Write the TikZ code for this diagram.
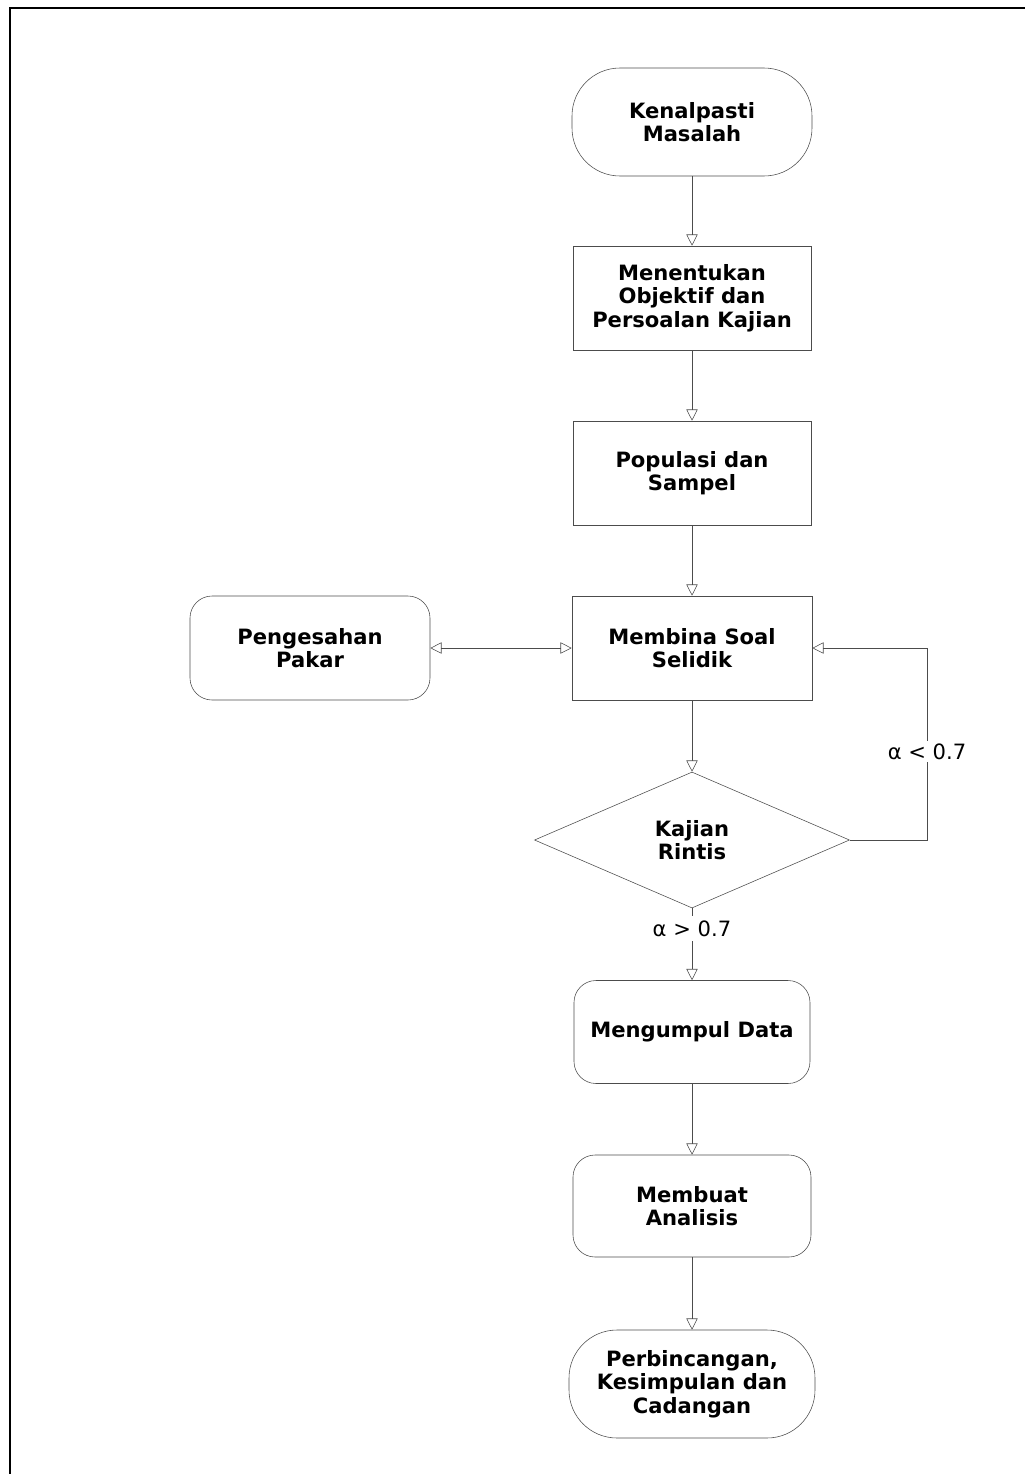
\documentclass[tikz,border=0pt]{standalone}
\usepackage{fontspec}
\setmainfont{DejaVu Sans}
\usetikzlibrary{shapes.geometric,arrows.meta}
\tikzstyle{every node}=[font=\fontsize{15}{16.7}\selectfont]
\tikzstyle{terminal}=[rectangle, draw=black!70, rounded corners=1.2cm, minimum width=6cm, minimum height=2.7cm, align=center, font=\fontsize{15}{16.7}\selectfont\bfseries]
\tikzstyle{process}=[rectangle, draw=black!70, minimum width=5.95cm, minimum height=2.6cm, align=center, font=\fontsize{15}{16.7}\selectfont\bfseries]
\tikzstyle{soft}=[process, rounded corners=0.55cm]
\tikzstyle{decision}=[diamond, draw=black!70, minimum width=7.875cm, minimum height=3.4cm, inner sep=0pt, align=center, font=\fontsize{15}{16.7}\selectfont\bfseries]
\tikzstyle{flow}=[draw=black!70, thin, -{Triangle[open, length=8pt, width=8pt]}]

\begin{document}
\begin{tikzpicture}
\useasboundingbox (0,0) rectangle (25.625,-36.85);
\draw[line width=1pt] (0.25,-36.85) -- (0.25,-0.2) -- (25.625,-0.2);

\draw (17.3,-3.05) node[terminal] (K1) {Kenalpasti\\Masalah};
\draw (17.3,-7.45) node[process] (O1) {Menentukan\\Objektif dan\\Persoalan Kajian};
\draw (17.3,-11.825) node[process] (P1) {Populasi dan\\Sampel};
\draw (17.3,-16.2) node[process, minimum width=6cm] (S1) {Membina Soal\\Selidik};
\draw (7.75,-16.2) node[soft, minimum width=6cm] (V1) {Pengesahan\\Pakar};
\draw (17.3,-21.0) node[decision] (R1) {Kajian\\Rintis};
\draw (17.3,-25.8) node[soft, minimum width=5.9cm, minimum height=2.575cm] (D1) {Mengumpul Data};
\draw (17.3,-30.15) node[soft, minimum height=2.55cm] (A1) {Membuat\\Analisis};
\draw (17.3,-34.6) node[terminal, minimum width=6.15cm] (C1) {Perbincangan,\\Kesimpulan dan\\Cadangan};
\coordinate (L1) at (23.175,-21.0);
\coordinate (L2) at (23.175,-16.2);

\draw[flow] (K1) -- (O1);
\draw[flow] (O1) -- (P1);
\draw[flow] (P1) -- (S1);
\draw[flow, {Triangle[open, length=8pt, width=8pt]}-{Triangle[open, length=8pt, width=8pt]}] (V1) -- (S1);
\draw[flow] (S1) -- (R1);
\draw[flow] (R1.east) -- (L1) -- node[pos=0.46, fill=white, inner sep=2pt] {α < 0.7} (L2) -- (S1.east);
\draw[flow] (R1.south) -- node[pos=0.28, fill=white] {α > 0.7} (D1);
\draw[flow] (D1) -- (A1);
\draw[flow] (A1) -- (C1);
\end{tikzpicture}
\end{document}
